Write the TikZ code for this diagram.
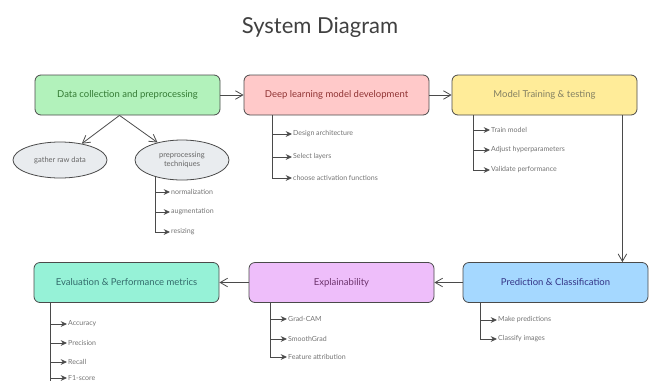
\documentclass[tikz,border=0pt]{standalone}
\usepackage{fontspec}
\setmainfont{Lato}
\usepackage{tikz}
\usetikzlibrary{positioning,arrows.meta,shapes.geometric}
\definecolor{bordergray}{HTML}{4A4A4A}
\definecolor{fillgreen}{HTML}{B2F2BB}
\definecolor{fillpink}{HTML}{FFC9C9}
\definecolor{fillyellow}{HTML}{FFEC99}
\definecolor{fillblue}{HTML}{A5D8FF}
\definecolor{fillviolet}{HTML}{EEBEFA}
\definecolor{fillteal}{HTML}{96F2D7}
\definecolor{fillgray}{HTML}{E9ECEF}
\tikzset{
  mainarrow/.style={-{Straight Barb[length=2.6mm,width=3mm]}, thick, draw=bordergray},
  subarrow/.style={-{Stealth[length=2.2mm,width=2mm]}, thick, draw=bordergray},
  stagebox/.style={draw=bordergray, rounded corners=6pt, thick, minimum width=185pt, minimum height=40pt, align=center, font=\fontsize{9.5}{11}\selectfont},
  blobnode/.style={draw=bordergray, ellipse, thick, fill=fillgray, minimum width=94pt, minimum height=36pt, inner sep=1pt, align=center, font=\fontsize{7.5}{9}\selectfont, text=black!60},
  itemtext/.style={anchor=west, inner sep=1pt, font=\fontsize{7}{8}\selectfont, text=black!55},
  titletext/.style={font=\fontsize{22}{26}\selectfont, text=black!75}
}
\begin{document}
\begin{tikzpicture}[x=1pt, y=-1pt]
  \useasboundingbox (0,0) rectangle (658,381);
  \node[titletext] (title) at (320,27) {System Diagram};

  % top row
  \node[stagebox, fill=fillgreen, text=green!35!black!80] (dcp) at (127.5,95) {Data collection and preprocessing};
  \node[stagebox, fill=fillpink, text=red!45!black!80] (dlm) at (336.5,95) {Deep learning model development};
  \node[stagebox, fill=fillyellow, text=yellow!30!black!80] (mtt) at (544.5,95) {Model Training \& testing};
  \draw[mainarrow] (dcp) -- (dlm);
  \draw[mainarrow] (dlm) -- (mtt);

  % bottom row
  \node[stagebox, fill=fillteal, text=teal!55!black!80] (epm) at (126.5,282.5) {Evaluation \& Performance metrics};
  \node[stagebox, fill=fillviolet, text=violet!55!black!80] (exp) at (341.5,282.5) {Explainability};
  \node[stagebox, fill=fillblue, text=blue!40!black!80] (pcl) at (555.5,282.5) {Prediction \& Classification};
  \draw[mainarrow] ([xshift=-15pt]mtt.south east) -- ([xshift=-15pt]mtt.south east |- pcl.north);
  \draw[mainarrow] (pcl) -- (exp);
  \draw[mainarrow] (exp) -- (epm);

  % data branches
  \node[blobnode] (raw) at (60,160) {gather raw data};
  \node[blobnode, minimum height=40pt] (tech) at (182,160) {preprocessing\\techniques};
  \draw[mainarrow] ([xshift=-8pt]dcp.south) -- (raw);
  \draw[mainarrow] ([xshift=-8pt]dcp.south) -- (tech);

  % sub items
  \coordinate (t0) at (155,177);
  \foreach \name/\y/\txt in {t1/192/normalization, t2/212/augmentation, t3/232/resizing} {
    \coordinate (\name) at (155,\y);
    \node[itemtext] (\name txt) at (170,\y) {\txt};
    \draw[subarrow] (\name) -- (\name txt);
  }
  \draw[thick, bordergray] (t0) -- (t3);

  \foreach \name/\y/\txt in {d1/134/Design architecture, d2/157/Select layers, d3/178/choose activation functions} {
    \coordinate (\name) at (272,\y);
    \node[itemtext] (\name txt) at (292,\y) {\txt};
    \draw[subarrow] (\name) -- (\name txt);
  }
  \draw[thick, bordergray] (dlm.south -| d1) -- (d3);

  \foreach \name/\y/\txt in {m1/130/Train model, m2/150/Adjust hyperparameters, m3/170/Validate performance} {
    \coordinate (\name) at (473,\y);
    \node[itemtext] (\name txt) at (490,\y) {\txt};
    \draw[subarrow] (\name) -- (\name txt);
  }
  \draw[thick, bordergray] (mtt.south -| m1) -- (m3);

  \foreach \name/\y/\txt in {p1/320/Make predictions, p2/339/Classify images} {
    \coordinate (\name) at (480,\y);
    \node[itemtext] (\name txt) at (497,\y) {\txt};
    \draw[subarrow] (\name) -- (\name txt);
  }
  \draw[thick, bordergray] (pcl.south -| p1) -- (p2);

  \foreach \name/\y/\txt in {x1/319/Grad-CAM, x2/339/SmoothGrad, x3/357/Feature attribution} {
    \coordinate (\name) at (270,\y);
    \node[itemtext] (\name txt) at (287,\y) {\txt};
    \draw[subarrow] (\name) -- (\name txt);
  }
  \draw[thick, bordergray] (exp.south -| x1) -- (x3);

  \foreach \name/\y/\txt in {e1/324/Accuracy, e2/343/Precision, e3/362/Recall, e4/378/F1-score} {
    \coordinate (\name) at (50,\y);
    \node[itemtext] (\name txt) at (67,\y) {\txt};
    \draw[subarrow] (\name) -- (\name txt);
  }
  \draw[thick, bordergray] (epm.south -| e1) -- (50,381);
\end{tikzpicture}
\end{document}
